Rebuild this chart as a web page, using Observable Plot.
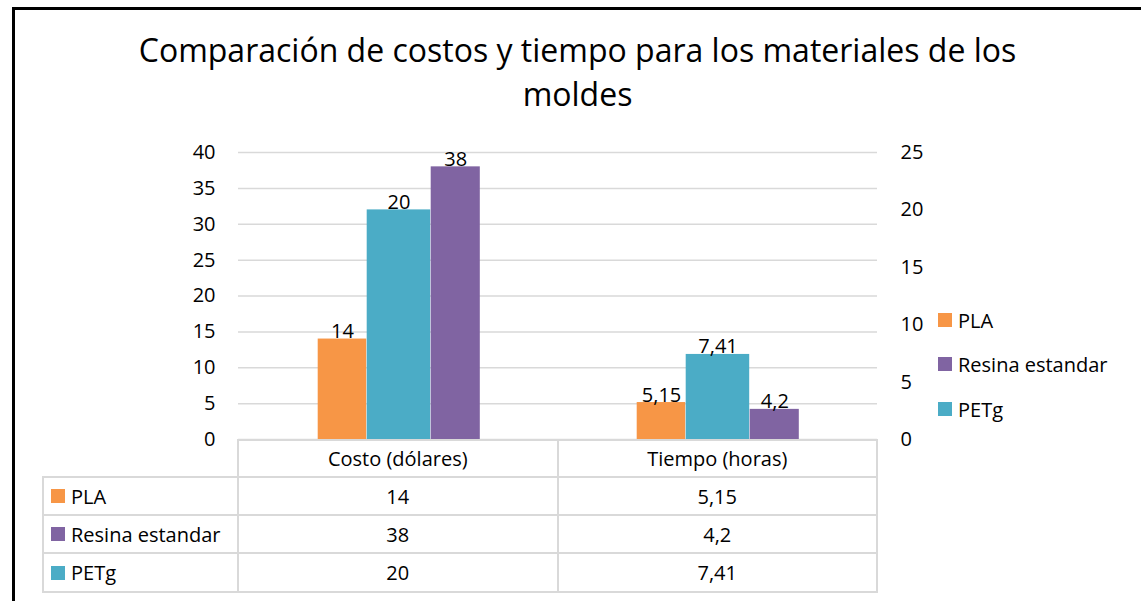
<!DOCTYPE html>
<html><head><meta charset="utf-8">
<script src="https://cdn.jsdelivr.net/npm/d3@7"></script>
<script src="https://cdn.jsdelivr.net/npm/@observablehq/plot@0.6"></script>
<style>
html,body{margin:0;padding:0;background:#fff;}
#wrap{position:relative;width:1141px;height:601px;overflow:hidden;font-family:"Open Sans",sans-serif;color:#000;background:#fff;font-variant-ligatures:none;}
#frameL{position:absolute;left:12px;top:7px;width:3px;height:594px;background:#000;}
#frameT{position:absolute;left:12px;top:7px;width:1129px;height:3px;background:#000;}
#title{position:absolute;left:0;width:1155px;top:28px;text-align:center;font-size:32px;line-height:44px;white-space:nowrap;}
#chart{position:absolute;left:0;top:0;}
.ln{position:absolute;background:#d9d9d9;}
.cell{position:absolute;display:flex;align-items:center;justify-content:center;font-size:20px;white-space:nowrap;}
.lab{justify-content:flex-start;}
.sw{display:inline-block;width:14px;height:14px;margin-right:6px;}
.leg{position:absolute;display:flex;align-items:center;font-size:20px;white-space:nowrap;height:20px;}
</style></head>
<body>
<div id="wrap">
  <div id="frameL"></div><div id="frameT"></div>
  <div id="title">Comparación de costos y tiempo para los materiales de los<br>moldes</div>
  <div id="chart"></div>
</div>
<script>
// ---- data ----
const categories = ["Costo (dólares)", "Tiempo (horas)"];
const seriesNames = ["PLA", "Resina estandar", "PETg"];
const plaValues = [14, 5.15];
const resinaValues = [38, 4.2];
const petgValues = [20, 7.41];           // plotted on secondary axis
const leftTicks = [0, 5, 10, 15, 20, 25, 30, 35, 40];
const rightTicks = [0, 5, 10, 15, 20, 25];
const seriesColors = {"PLA": "#F79646", "Resina estandar": "#8064A2", "PETg": "#4BACC6"};

const primaryMax = 40, secondaryMax = 25;
const toPrimary = v => v * primaryMax / secondaryMax;
const fmt = v => String(v).replace(".", ",");

const pla = categories.map((c, i) => ({cat: c, value: plaValues[i], y: plaValues[i]}));
const resina = categories.map((c, i) => ({cat: c, value: resinaValues[i], y: resinaValues[i]}));
const petg = categories.map((c, i) => ({cat: c, value: petgValues[i], y: toPrimary(petgValues[i])}));

const W = 1141, H = 601;
const mL = 238, mR = 264, mT = 152, mB = 162;

function bars(data, color, il, ir) {
  return Plot.barY(data, {x: "cat", y: "y", fill: color, insetLeft: il, insetRight: ir});
}
function labels(data, dx) {
  return Plot.text(data, {x: "cat", y: "y", text: d => fmt(d.value), dx, dy: -1, lineAnchor: "bottom", fontSize: 20, fill: "#000"});
}

const chart = Plot.plot({
  width: W, height: H,
  marginLeft: mL, marginRight: mR, marginTop: mT, marginBottom: mB,
  style: {fontFamily: "'Open Sans', sans-serif", fontSize: "20px", color: "#000", background: "transparent", overflow: "visible"},
  x: {domain: categories, padding: 0, axis: null},
  y: {domain: [0, primaryMax], axis: null},
  marks: [
    Plot.ruleY(leftTicks, {stroke: "#d9d9d9", strokeWidth: 1.5}),
    bars(pla, seriesColors["PLA"], 78.7, 191.8),
    bars(petg, seriesColors["PETg"], 127.7, 127.8),
    bars(resina, seriesColors["Resina estandar"], 191.7, 78.2),
    labels(pla, -56.5),
    labels(petg, 0),
    labels(resina, 56.8),
    Plot.axisY(leftTicks, {anchor: "left", label: null, tickSize: 0, tickPadding: 23, fontSize: 20, fill: "#000"}),
    Plot.axisY(rightTicks.map(toPrimary), {anchor: "right", label: null, tickSize: 0, tickPadding: 23, fontSize: 20, fill: "#000",
      tickFormat: d => String(Math.round(d * secondaryMax / primaryMax))})
  ]
});
document.getElementById("chart").appendChild(chart);

// ---- data table ----
const wrap = document.getElementById("wrap");
function line(x, y, w, h) {
  const d = document.createElement("div"); d.className = "ln";
  Object.assign(d.style, {left: x + "px", top: y + "px", width: w + "px", height: h + "px"});
  wrap.appendChild(d);
}
function cell(x, y, w, h, html, cls) {
  const d = document.createElement("div"); d.className = "cell" + (cls ? " " + cls : "");
  Object.assign(d.style, {left: x + "px", top: y + "px", width: w + "px", height: h + "px"});
  d.innerHTML = html; wrap.appendChild(d);
}
const colX = [238, 557.5, 877];
const tableLeft = 42;
const rowY = [439, 477, 515, 553, 592];
line(colX[0], rowY[0], colX[2] - colX[0] + 1, 2);
for (let r = 1; r < rowY.length; r++) line(tableLeft, rowY[r] - 1, colX[2] - tableLeft + 1, 2);
line(tableLeft, rowY[1] - 1, 2, rowY[4] - rowY[1] + 1);
colX.forEach(x => line(x - 1, rowY[0], 2, rowY[4] - rowY[0] + 1));
categories.forEach((c, j) => cell(colX[j], rowY[0] + 1, colX[j + 1] - colX[j], rowY[1] - rowY[0] - 1, c));
const tableValues = {"PLA": plaValues, "Resina estandar": resinaValues, "PETg": petgValues};
seriesNames.forEach((s, i) => {
  const y0 = rowY[i + 1], h = rowY[i + 2] - y0;
  cell(tableLeft + 9, y0, colX[0] - tableLeft - 9, h, `<span class="sw" style="background:${seriesColors[s]}"></span>${s}`, "lab");
  tableValues[s].forEach((v, j) => cell(colX[j], y0, colX[j + 1] - colX[j], h, fmt(v)));
});
// legend
const legendY = [320, 364, 409];
seriesNames.forEach((s, i) => {
  const d = document.createElement("div"); d.className = "leg";
  Object.assign(d.style, {left: "938px", top: (legendY[i] - 10) + "px"});
  d.innerHTML = `<span class="sw" style="background:${seriesColors[s]}"></span>${s}`;
  wrap.appendChild(d);
});
</script>
</body></html>
